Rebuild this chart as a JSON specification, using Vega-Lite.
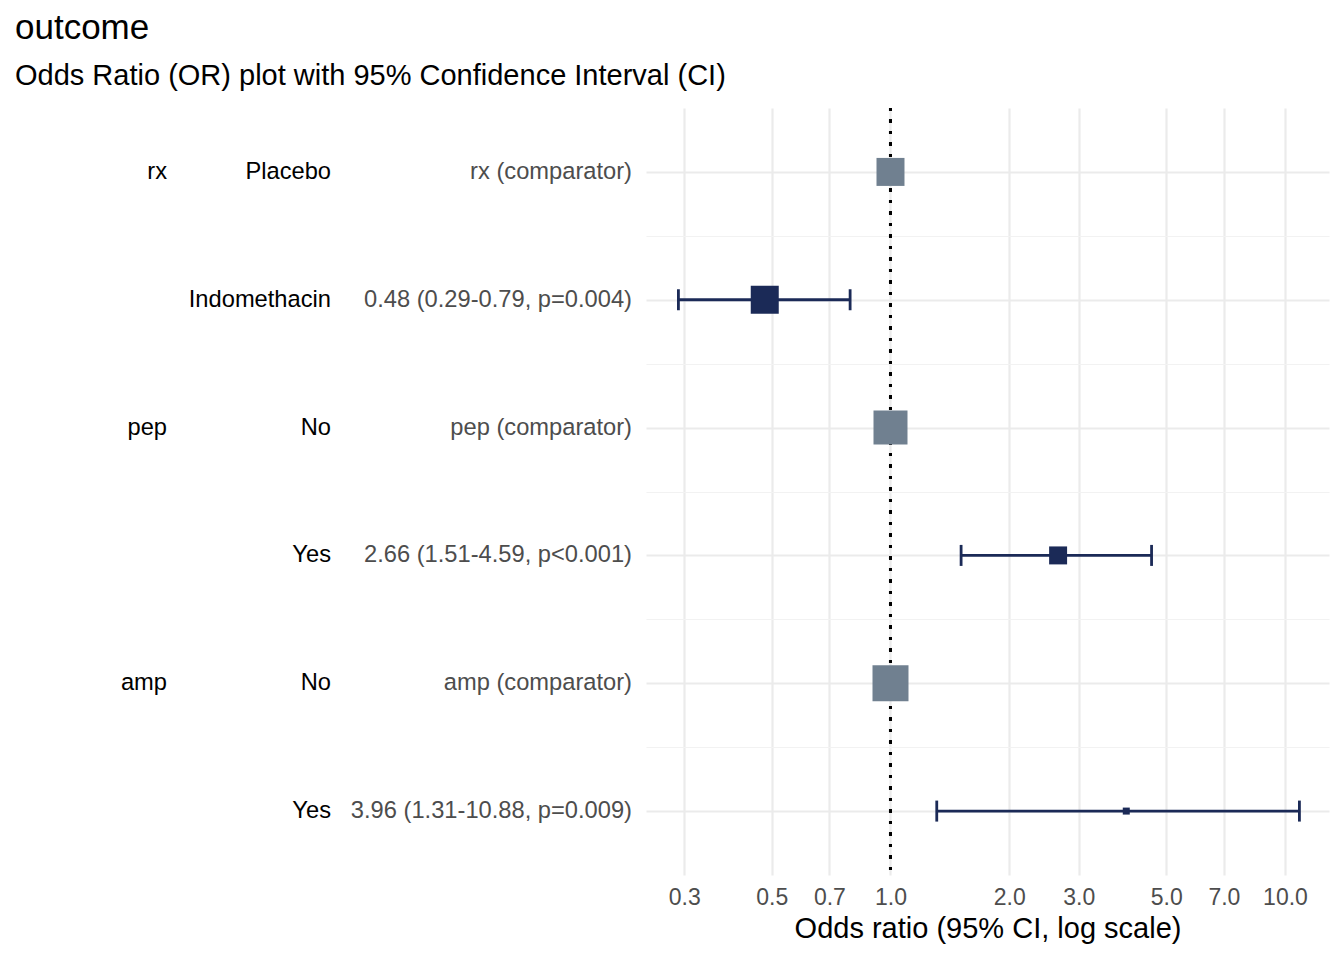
{
  "$schema": "https://vega.github.io/schema/vega-lite/v6.json",
  "padding": {"left": 15, "top": 10, "right": 15, "bottom": 5},
  "background": "white",
  "config": {"font": "Liberation Sans", "view": {"stroke": null}},
  "title": {
    "text": "outcome",
    "subtitle": "Odds Ratio (OR) plot with 95% Confidence Interval (CI)",
    "anchor": "start",
    "frame": "group",
    "fontSize": 35,
    "fontWeight": "normal",
    "color": "#000000",
    "subtitleFontSize": 29,
    "subtitleColor": "#000000",
    "subtitlePadding": 16,
    "offset": 16
  },
  "data": {
    "values": [
      {"row": 1, "variable": "rx", "level": "Placebo", "or_text": "rx (comparator)", "estimate": 1, "lo": null, "hi": null, "total": 352, "type": "comparator"},
      {"row": 2, "variable": "", "level": "Indomethacin", "or_text": "0.48 (0.29-0.79, p=0.004)", "estimate": 0.48, "lo": 0.29, "hi": 0.79, "total": 352, "type": "estimate"},
      {"row": 3, "variable": "pep", "level": "No", "or_text": "pep (comparator)", "estimate": 1, "lo": null, "hi": null, "total": 519, "type": "comparator"},
      {"row": 4, "variable": "", "level": "Yes", "or_text": "2.66 (1.51-4.59, p<0.001)", "estimate": 2.66, "lo": 1.51, "hi": 4.59, "total": 145, "type": "estimate"},
      {"row": 5, "variable": "amp", "level": "No", "or_text": "amp (comparator)", "estimate": 1, "lo": null, "hi": null, "total": 582, "type": "comparator"},
      {"row": 6, "variable": "", "level": "Yes", "or_text": "3.96 (1.31-10.88, p=0.009)", "estimate": 3.96, "lo": 1.31, "hi": 10.88, "total": 22, "type": "estimate"}
    ]
  },
  "spacing": 14,
  "hconcat": [
    {
      "spacing": 0,
      "hconcat": [
        {
          "width": 152,
          "height": 767,
          "mark": {"type": "text", "align": "right", "baseline": "middle", "fontSize": 23.7, "color": "#000000"},
          "encoding": {
            "x": {"value": "width"},
            "y": {"field": "row", "type": "quantitative", "scale": {"domain": [0.5, 6.5], "reverse": true, "nice": false, "zero": false}, "axis": null},
            "text": {"field": "variable", "type": "nominal"}
          }
        },
        {
          "width": 164,
          "height": 767,
          "mark": {"type": "text", "align": "right", "baseline": "middle", "fontSize": 23.7, "color": "#000000"},
          "encoding": {
            "x": {"value": "width"},
            "y": {"field": "row", "type": "quantitative", "scale": {"domain": [0.5, 6.5], "reverse": true, "nice": false, "zero": false}, "axis": null},
            "text": {"field": "level", "type": "nominal"}
          }
        },
        {
          "width": 301,
          "height": 767,
          "mark": {"type": "text", "align": "right", "baseline": "middle", "fontSize": 23.7, "color": "#4D4D4D"},
          "encoding": {
            "x": {"value": "width"},
            "y": {"field": "row", "type": "quantitative", "scale": {"domain": [0.5, 6.5], "reverse": true, "nice": false, "zero": false}, "axis": null},
            "text": {"field": "or_text", "type": "nominal"}
          }
        }
      ]
    },
    {
      "width": 683,
      "height": 767,
      "layer": [
        {
          "mark": {"type": "rule", "color": "#000000", "strokeWidth": 3, "strokeDash": [3, 8.5]},
          "encoding": {"x": {"datum": 1, "type": "quantitative", "title": "Odds ratio (95% CI, log scale)"}}
        },
        {
          "transform": [{"filter": "isValid(datum.lo)"}],
          "mark": {"type": "rule", "color": "#1B2A57", "strokeWidth": 2.8},
          "encoding": {
            "x": {"field": "lo", "type": "quantitative", "title": "Odds ratio (95% CI, log scale)"},
            "x2": {"field": "hi"},
            "y": {"field": "row", "type": "quantitative"}
          }
        },
        {
          "transform": [{"filter": "isValid(datum.lo)"}],
          "mark": {"type": "tick", "orient": "vertical", "color": "#1B2A57", "size": 21, "thickness": 2.8, "opacity": 1},
          "encoding": {
            "x": {"field": "lo", "type": "quantitative", "title": "Odds ratio (95% CI, log scale)"},
            "y": {"field": "row", "type": "quantitative"}
          }
        },
        {
          "transform": [{"filter": "isValid(datum.hi)"}],
          "mark": {"type": "tick", "orient": "vertical", "color": "#1B2A57", "size": 21, "thickness": 2.8, "opacity": 1},
          "encoding": {
            "x": {"field": "hi", "type": "quantitative", "title": "Odds ratio (95% CI, log scale)"},
            "y": {"field": "row", "type": "quantitative"}
          }
        },
        {
          "mark": {"type": "square", "opacity": 1, "filled": true, "strokeWidth": 0},
          "encoding": {
            "x": {
              "field": "estimate",
              "type": "quantitative",
              "title": "Odds ratio (95% CI, log scale)",
              "scale": {"type": "log", "domain": [0.24, 12.93], "nice": false, "zero": false},
              "axis": {
                "values": [0.3, 0.5, 0.7, 1, 2, 3, 5, 7, 10],
                "format": ".1f",
                "labelFontSize": 23,
                "labelColor": "#4D4D4D",
                "ticks": false,
                "domain": false,
                "grid": true,
                "gridColor": "#EBEBEB",
                "gridWidth": 2.2,
                "labelPadding": 11,
                "labelFlush": false,
                "labelOverlap": false,
                "titleFontSize": 29,
                "titleFontWeight": "normal",
                "titleColor": "#000000",
                "titlePadding": 5
              }
            },
            "y": {
              "field": "row",
              "type": "quantitative",
              "scale": {"domain": [0.5, 6.5], "reverse": true, "nice": false, "zero": false},
              "axis": {
                "values": [1, 1.5, 2, 2.5, 3, 3.5, 4, 4.5, 5, 5.5, 6],
                "labels": false,
                "ticks": false,
                "domain": false,
                "title": null,
                "grid": true,
                "gridColor": {"condition": {"test": "datum.value % 1 !== 0", "value": "#F2F2F2"}, "value": "#EBEBEB"},
                "gridWidth": {"condition": {"test": "datum.value % 1 !== 0", "value": 1.1}, "value": 2.2},
                "minExtent": 0
              }
            },
            "size": {"field": "total", "type": "quantitative", "scale": {"type": "linear", "domain": [0, 600], "range": [0, 1336], "zero": true}, "legend": null},
            "color": {"field": "type", "type": "nominal", "scale": {"domain": ["comparator", "estimate"], "range": ["#708090", "#1B2A57"]}, "legend": null}
          }
        }
      ]
    }
  ]
}
